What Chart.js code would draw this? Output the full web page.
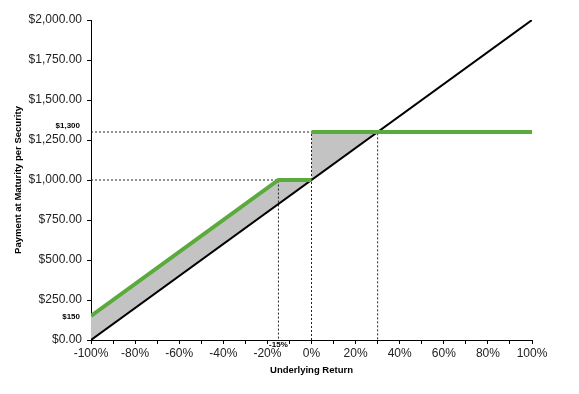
<!DOCTYPE html>
<html lang="en">
<head>
    <meta charset="UTF-8">
    <title>Payment at Maturity</title>
    <script src="https://cdn.jsdelivr.net/npm/chart.js"></script>
    <style>
        body { margin: 0; background: #fff; }
        #wrap { width: 579px; height: 394px; }
    </style>
</head>
<body>
    <div id="wrap"><canvas id="payoffChart"></canvas></div>

    <script>
        // tick values
        const xTickValues = [-100, -90, -80, -70, -60, -50, -40, -30, -20, -10, 0, 10, 20, 30, 40, 50, 60, 70, 80, 90, 100];
        const xLabelValues = [-100, -80, -60, -40, -20, 0, 20, 40, 60, 80, 100];
        const yTickValues = [0, 250, 500, 750, 1000, 1250, 1500, 1750, 2000];

        // underlying (1:1) line
        const underlyingReturns = [-100, 100];
        const underlyingPayments = [0, 2000];

        // security payment, below and above 0%
        const securityReturnsLow = [-100, -15, 0];
        const securityPaymentsLow = [150, 1000, 1000];
        const securityReturnsHigh = [0, 100];
        const securityPaymentsHigh = [1300, 1300];

        // shaded outperformance region (down to where the lines cross)
        const shadeReturns = [-100, -15, 0, 0, 30];
        const shadePayments = [150, 1000, 1000, 1300, 1300];

        // dotted guide lines
        const guide1000Returns = [-100, -15, -15];
        const guide1000Payments = [1000, 1000, 0];
        const guideZeroReturns = [0, 0];
        const guideZeroPayments = [0, 1300];
        const guide1300Returns = [-100, 30, 30];
        const guide1300Payments = [1300, 1300, 0];

        // small callout labels
        const callouts = [
            { text: '$1,300', axis: 'y', value: 1300 },
            { text: '$150', axis: 'y', value: 150 },
            { text: '-15%', axis: 'x', value: -15 }
        ];

        const FONT = 'Arial, "Liberation Sans", sans-serif';

        function pts(xs, ys) {
            return xs.map((x, i) => ({ x: x, y: ys[i] }));
        }

        function fmtDollar(v) {
            return '$' + v.toLocaleString('en-US', { minimumFractionDigits: 2, maximumFractionDigits: 2 });
        }

        function guide(xs, ys) {
            return {
                data: pts(xs, ys),
                showLine: true,
                borderColor: '#222',
                borderWidth: 1,
                borderDash: [2, 2],
                pointRadius: 0,
                fill: false
            };
        }

        const calloutPlugin = {
            id: 'callouts',
            afterDatasetsDraw(chart) {
                const ctx = chart.ctx;
                const xs = chart.scales.x;
                const ys = chart.scales.y;
                ctx.save();
                ctx.font = 'bold 8px ' + FONT;
                ctx.fillStyle = '#000';
                callouts.forEach(c => {
                    if (c.axis === 'y') {
                        const py = ys.getPixelForValue(c.value);
                        ctx.textAlign = 'right';
                        ctx.textBaseline = 'middle';
                        ctx.fillText(c.text, chart.chartArea.left - 11, c.value > 1000 ? py - 6 : py + 1);
                    } else {
                        ctx.textAlign = 'center';
                        ctx.textBaseline = 'middle';
                        ctx.fillText(c.text, xs.getPixelForValue(c.value), chart.chartArea.bottom + 5);
                    }
                });
                ctx.restore();
            }
        };

        const ctx = document.getElementById('payoffChart').getContext('2d');
        new Chart(ctx, {
            type: 'scatter',
            data: {
                datasets: [
                    {
                        data: pts(securityReturnsLow, securityPaymentsLow),
                        showLine: true, borderColor: '#5BAA3C', borderWidth: 4,
                        pointRadius: 0, fill: false
                    },
                    {
                        data: pts(securityReturnsHigh, securityPaymentsHigh),
                        showLine: true, borderColor: '#5BAA3C', borderWidth: 4,
                        pointRadius: 0, fill: false
                    },
                    {
                        data: pts(underlyingReturns, underlyingPayments),
                        showLine: true, borderColor: '#000', borderWidth: 2,
                        pointRadius: 0, fill: false
                    },
                    guide(guide1000Returns, guide1000Payments),
                    guide(guideZeroReturns, guideZeroPayments),
                    guide(guide1300Returns, guide1300Payments),
                    {
                        data: pts(shadeReturns, shadePayments),
                        showLine: true, borderWidth: 0, borderColor: 'rgba(0,0,0,0)',
                        pointRadius: 0,
                        fill: { target: 2, above: '#C3C3C3', below: 'rgba(0,0,0,0)' }
                    }
                ]
            },
            options: {
                responsive: true,
                maintainAspectRatio: false,
                animation: false,
                events: [],
                layout: { padding: { left: 0, right: 47, top: 20, bottom: 0 } },
                plugins: {
                    legend: { display: false },
                    tooltip: { enabled: false }
                },
                scales: {
                    x: {
                        type: 'linear',
                        min: -100,
                        max: 100,
                        afterBuildTicks: s => { s.ticks = xTickValues.map(v => ({ value: v })); },
                        afterFit: s => { s.height = 54; },
                        border: { color: '#000', width: 1 },
                        grid: { drawOnChartArea: false, color: '#000', tickLength: 4, tickColor: '#000' },
                        ticks: {
                            padding: 2,
                            maxRotation: 0,
                            autoSkip: false,
                            color: '#222',
                            font: { family: FONT, size: 12 },
                            callback: v => xLabelValues.includes(v) ? v + '%' : ''
                        },
                        title: {
                            display: true,
                            text: 'Underlying Return',
                            color: '#000',
                            font: { family: FONT, size: 9.5, weight: 'bold' },
                            padding: { top: 0, bottom: 17.5 }
                        }
                    },
                    y: {
                        type: 'linear',
                        min: 0,
                        max: 2000,
                        afterBuildTicks: s => { s.ticks = yTickValues.map(v => ({ value: v })); },
                        afterFit: s => { s.width = 91; },
                        border: { color: '#000', width: 1 },
                        grid: { drawOnChartArea: false, color: '#000', tickLength: 4, tickColor: '#000' },
                        ticks: {
                            padding: 5,
                            color: '#222',
                            font: { family: FONT, size: 12 },
                            callback: v => fmtDollar(v)
                        },
                        title: {
                            display: true,
                            text: 'Payment at Maturity per Security',
                            color: '#000',
                            font: { family: FONT, size: 9.5, weight: 'bold' },
                            padding: { top: 12.3, bottom: 0 }
                        }
                    }
                }
            },
            plugins: [calloutPlugin]
        });
    </script>
</body>
</html>
